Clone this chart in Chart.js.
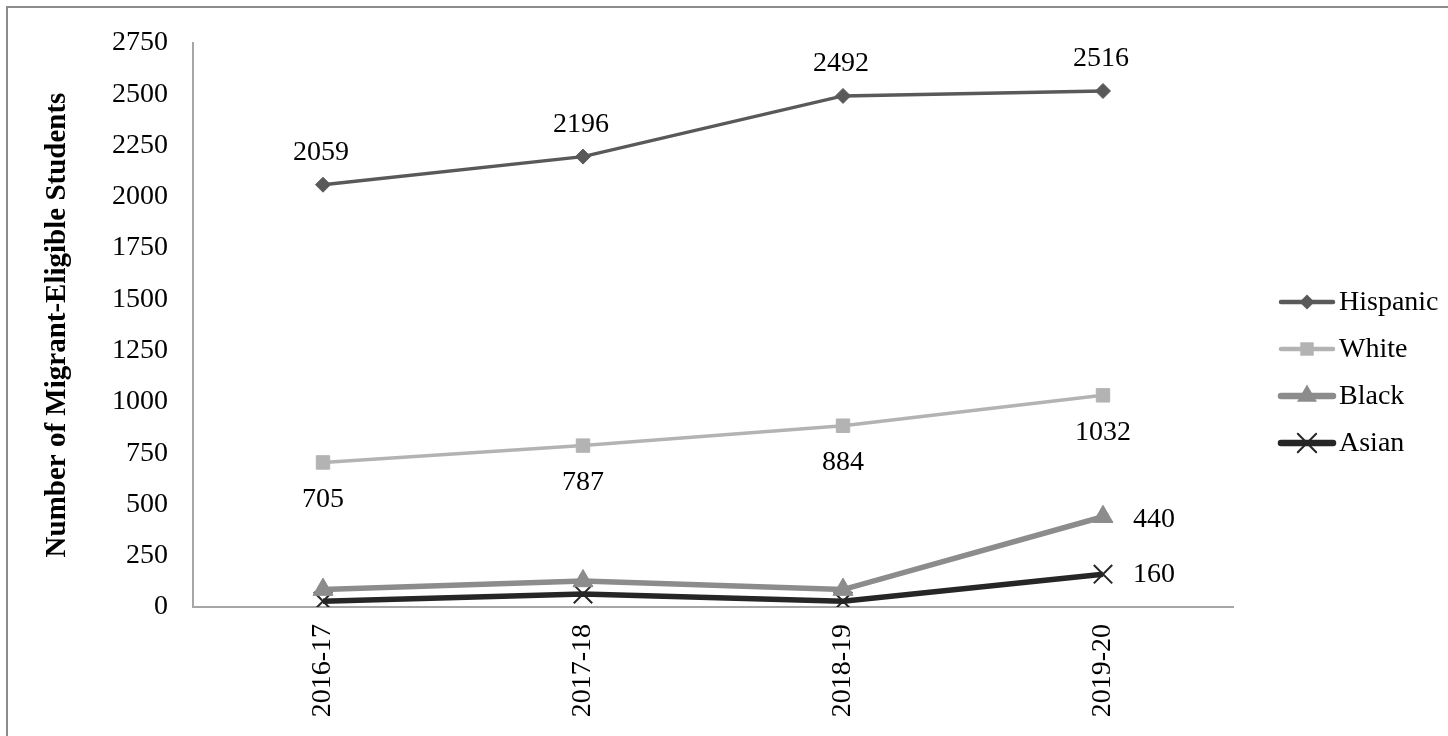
<!DOCTYPE html>
<html>
<head>
<meta charset="utf-8">
<script src="https://cdn.jsdelivr.net/npm/chart.js"></script>
<style>
body { margin: 0; background: #fff; }
#frame { position: absolute; left: 6px; top: 6px; width: 1470px; height: 760px; border-top: 2px solid #8c8c8c; border-left: 2px solid #8c8c8c; }
#wrap { position: absolute; left: 0; top: 0; width: 1448px; height: 736px; }
</style>
</head>
<body>
<div id="frame"></div>
<div id="wrap"><canvas id="myChart"></canvas></div>
<script>
var years = ['2016-17', '2017-18', '2018-19', '2019-20'];
var hispanic = [2059, 2196, 2492, 2516];
var white = [705, 787, 884, 1032];
var black = [85, 127, 85, 440];
var asian = [28, 63, 28, 160];

var FONT = "'Liberation Serif', 'Times New Roman', serif";

// same shapes as chart.js point styles, for the legend
function marker(ctx, style, r, x, y) {
    ctx.beginPath();
    if (style === 'rectRot') {
        ctx.moveTo(x, y - r); ctx.lineTo(x + r, y); ctx.lineTo(x, y + r); ctx.lineTo(x - r, y); ctx.closePath(); ctx.fill();
    } else if (style === 'rect') {
        var s = r * Math.SQRT1_2;
        ctx.rect(x - s, y - s, 2 * s, 2 * s); ctx.fill();
    } else if (style === 'triangle') {
        ctx.moveTo(x, y - r);
        ctx.lineTo(x + Math.sin(Math.PI * 2 / 3) * r, y + r / 2);
        ctx.lineTo(x - Math.sin(Math.PI * 2 / 3) * r, y + r / 2);
        ctx.closePath(); ctx.fill();
    } else if (style === 'crossRot') {
        var d = r * Math.SQRT1_2;
        ctx.moveTo(x - d, y - d); ctx.lineTo(x + d, y + d);
        ctx.moveTo(x + d, y - d); ctx.lineTo(x - d, y + d);
        ctx.stroke();
    }
}

// value labels next to points
var valueLabels = {
    id: 'valueLabels',
    afterDatasetsDraw: function(chart) {
        var ctx = chart.ctx;
        ctx.save();
        ctx.font = '28px ' + FONT;
        ctx.fillStyle = '#000';
        chart.data.datasets.forEach(function(ds, di) {
            var meta = chart.getDatasetMeta(di);
            var lb = ds.lbl;
            meta.data.forEach(function(pt, i) {
                if (lb.only !== undefined && lb.only !== i) return;
                ctx.textAlign = lb.align;
                ctx.textBaseline = 'middle';
                ctx.fillText(ds.data[i], pt.x + lb.dx, pt.y + lb.dy);
            });
        });
        ctx.restore();
    }
};

// legend drawn as line + marker like the original
var lineLegend = {
    id: 'lineLegend',
    afterDraw: function(chart, args, opts) {
        var ctx = chart.ctx;
        ctx.save();
        ctx.font = '28px ' + FONT;
        ctx.textBaseline = 'middle';
        ctx.textAlign = 'left';
        chart.data.datasets.forEach(function(ds, i) {
            var y = opts.y + i * opts.gap;
            ctx.strokeStyle = ds.borderColor;
            ctx.lineWidth = ds.borderWidth + 1;
            ctx.lineCap = 'round';
            ctx.beginPath();
            ctx.moveTo(opts.x, y);
            ctx.lineTo(opts.x + opts.len, y);
            ctx.stroke();
            ctx.fillStyle = ds.pointBackgroundColor;
            ctx.strokeStyle = ds.pointBorderColor;
            ctx.lineWidth = ds.pointBorderWidth;
            marker(ctx, ds.pointStyle, ds.pointRadius, opts.x + opts.len / 2, y);
            ctx.fillStyle = '#000';
            ctx.fillText(ds.label, opts.x + opts.len + 6, y + 1);
        });
        ctx.restore();
    }
};

var ctx = document.getElementById('myChart');
var myChart = new Chart(ctx, {
    type: 'line',
    data: {
        labels: years,
        datasets: [{
            label: 'Hispanic',
            data: hispanic,
            borderColor: '#595959',
            borderWidth: 3.5,
            pointStyle: 'rectRot',
            pointRadius: 7.5,
            pointBackgroundColor: '#595959',
            pointBorderColor: '#595959',
            pointBorderWidth: 1,
            lbl: { dx: -2, dy: -32, align: 'center' }
        }, {
            label: 'White',
            data: white,
            borderColor: '#b3b3b3',
            borderWidth: 3.5,
            pointStyle: 'rect',
            pointRadius: 9.5,
            pointBackgroundColor: '#b3b3b3',
            pointBorderColor: '#b3b3b3',
            pointBorderWidth: 1,
            lbl: { dx: 0, dy: 37, align: 'center' }
        }, {
            label: 'Black',
            data: black,
            borderColor: '#8c8c8c',
            borderWidth: 5.5,
            pointStyle: 'triangle',
            pointRadius: 11.5,
            pointBackgroundColor: '#8c8c8c',
            pointBorderColor: '#8c8c8c',
            pointBorderWidth: 1,
            lbl: { dx: 30, dy: 3, align: 'left', only: 3 }
        }, {
            label: 'Asian',
            data: asian,
            borderColor: '#262626',
            borderWidth: 5.5,
            pointStyle: 'crossRot',
            pointRadius: 13,
            pointBackgroundColor: '#262626',
            pointBorderColor: '#262626',
            pointBorderWidth: 2,
            lbl: { dx: 30, dy: 0, align: 'left', only: 3 }
        }]
    },
    options: {
        responsive: true,
        maintainAspectRatio: false,
        animation: false,
        layout: { padding: { left: 36, right: 215, top: 43, bottom: 0 } },
        plugins: {
            legend: { display: false },
            tooltip: { enabled: false },
            lineLegend: { x: 1281, y: 302, gap: 47, len: 52 }
        },
        scales: {
            x: {
                offset: true,
                grid: { display: false, drawTicks: false },
                border: { color: '#a6a6a6', width: 2 },
                ticks: {
                    color: '#000',
                    font: { family: FONT, size: 28 },
                    minRotation: 90,
                    maxRotation: 90,
                    padding: 17
                },
                afterFit: function(scale) { scale.height = 129; }
            },
            y: {
                min: 0,
                max: 2750,
                grid: { display: false, drawTicks: false },
                border: { color: '#a6a6a6', width: 2 },
                ticks: {
                    stepSize: 250,
                    color: '#000',
                    font: { family: FONT, size: 28 },
                    padding: 25,
                    callback: function(v) { return String(v); }
                },
                title: {
                    display: true,
                    text: 'Number of Migrant-Eligible Students',
                    color: '#000',
                    font: { family: FONT, size: 29, weight: 'bold' }
                },
                afterFit: function(scale) { scale.width = 157; }
            }
        }
    },
    plugins: [valueLabels, lineLegend]
});
</script>
</body>
</html>
